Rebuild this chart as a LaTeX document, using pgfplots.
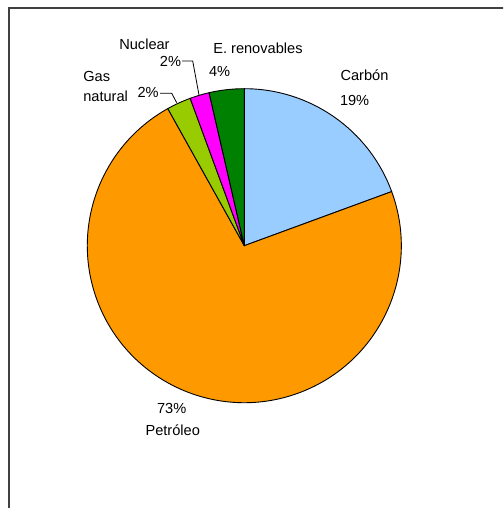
\documentclass[border=0pt]{standalone}
\usepackage{pgfplots}
\pgfplotsset{compat=1.18}
\usepackage{fontspec}
\setmainfont{Liberation Sans}
\definecolor{carbon}{RGB}{153,204,255}
\definecolor{petroleo}{RGB}{255,153,0}
\definecolor{gasnat}{RGB}{153,204,0}
\definecolor{nuclear}{RGB}{255,0,255}
\definecolor{renov}{RGB}{0,128,0}
\definecolor{framec}{RGB}{64,64,64}
% data (percent)
\def\vCarbon{19.4}
\def\vPetroleo{72.5}
\def\vGas{2.5}
\def\vNuclear{2.0}
\def\vRenov{3.6}
\pgfmathsetmacro\aA{90}
\pgfmathsetmacro\aB{\aA-3.6*\vCarbon}
\pgfmathsetmacro\aC{\aB-3.6*\vPetroleo}
\pgfmathsetmacro\aD{\aC-3.6*\vGas}
\pgfmathsetmacro\aE{\aD-3.6*\vNuclear}
\pgfmathsetmacro\aF{\aE-3.6*\vRenov}
\begin{document}
\begin{tikzpicture}[x=1pt,y=1pt,every node/.style={font=\fontsize{14.6}{17}\selectfont,inner sep=0pt,outer sep=0pt}]
\useasboundingbox (0,0) rectangle (503,508);
\clip (0,0) rectangle (503,508);
\draw[framec,line width=1.8pt] (8.7,-10) -- (8.7,500) -- (515,500);
\begin{axis}[hide axis, scale only axis, width=314pt, height=314pt,
  xmin=-1, xmax=1, ymin=-1, ymax=1, clip=false,
  at={(244.3pt,262.3pt)}, anchor=center]
\addplot[draw=none] coordinates {(0,0)};
\filldraw[fill=carbon,draw=black,line width=0.9pt,line join=round] (axis cs:0,0) -- (axis cs:{cos(\aA)},{sin(\aA)}) arc[start angle=\aA,end angle=\aB,radius=157pt] -- cycle;
\filldraw[fill=petroleo,draw=black,line width=0.9pt,line join=round] (axis cs:0,0) -- (axis cs:{cos(\aB)},{sin(\aB)}) arc[start angle=\aB,end angle=\aC,radius=157pt] -- cycle;
\filldraw[fill=gasnat,draw=black,line width=0.9pt,line join=round] (axis cs:0,0) -- (axis cs:{cos(\aC)},{sin(\aC)}) arc[start angle=\aC,end angle=\aD,radius=157pt] -- cycle;
\filldraw[fill=nuclear,draw=black,line width=0.9pt,line join=round] (axis cs:0,0) -- (axis cs:{cos(\aD)},{sin(\aD)}) arc[start angle=\aD,end angle=\aE,radius=157pt] -- cycle;
\filldraw[fill=renov,draw=black,line width=0.9pt,line join=round] (axis cs:0,0) -- (axis cs:{cos(\aE)},{sin(\aE)}) arc[start angle=\aE,end angle=\aF,radius=157pt] -- cycle;
\end{axis}
% labels
\node[anchor=base west] at (340.5,427.7) {Carbón};
\node[anchor=base west] at (340,402.7) {19\%};
\node[anchor=base west] at (213.3,454.4) {E. renovables};
\node[anchor=base west] at (209,431) {4\%};
\node[anchor=base west] at (119.3,458.7) {Nuclear};
\node[anchor=base east] at (181,441.7) {2\%};
\draw[black,line width=0.8pt] (182,447) -- (192.7,447) -- (199,413);
\node[anchor=base west] at (83.3,426) {Gas};
\node[anchor=base west] at (83.3,406) {natural};
\node[anchor=base east] at (158.7,410) {2\%};
\draw[black,line width=0.8pt] (160,414.7) -- (171.7,414.7) -- (176.7,405.3);
\node[anchor=base] at (171.7,94.4) {73\%};
\node[anchor=base] at (172.7,72.7) {Petróleo};
\end{tikzpicture}
\end{document}
